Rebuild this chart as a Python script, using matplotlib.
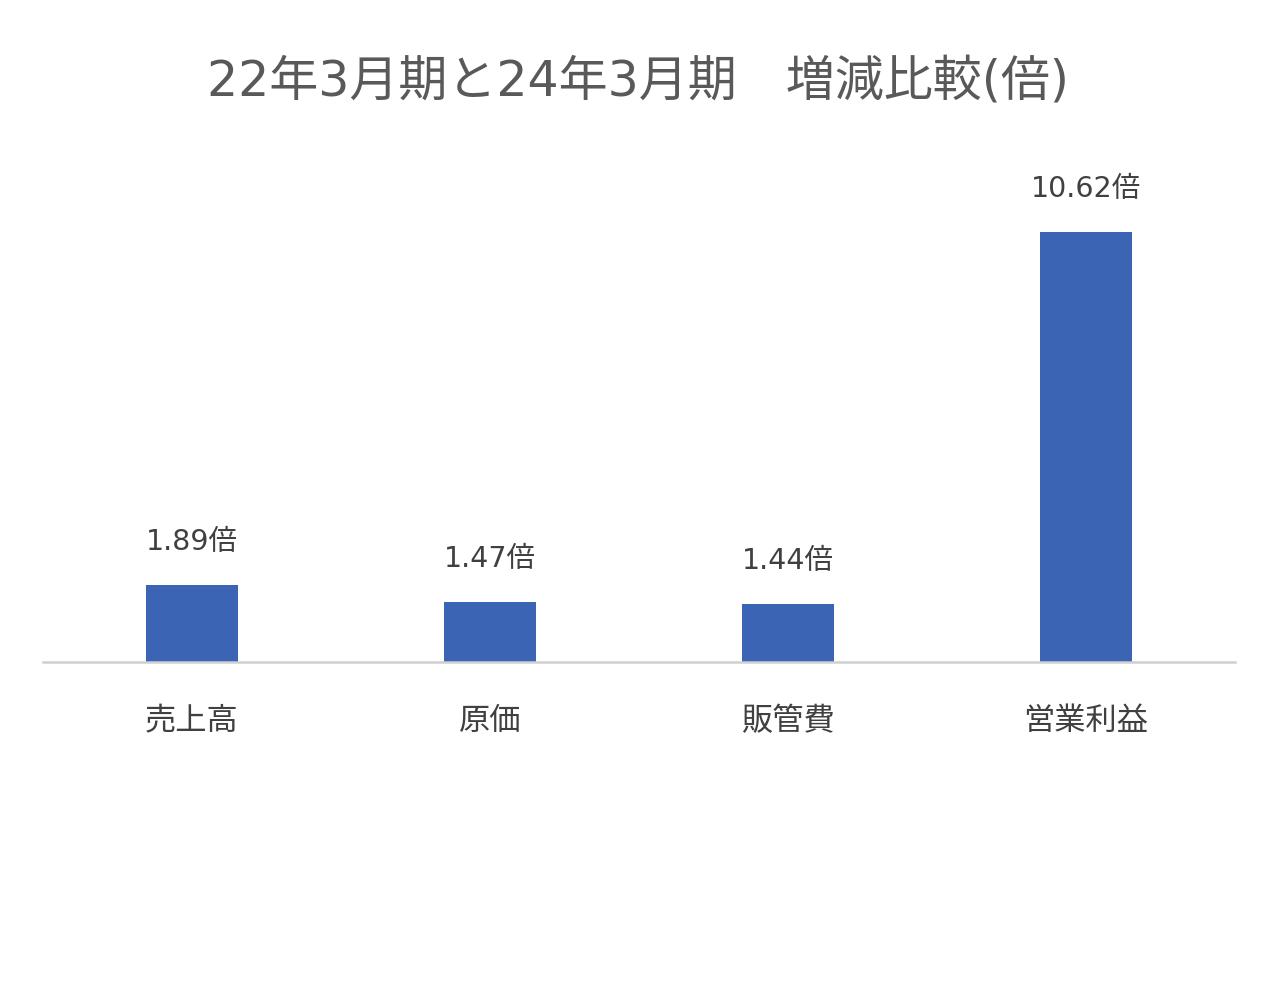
import matplotlib.pyplot as plt

plt.rcParams['font.family'] = ['Noto Sans CJK JP', 'DejaVu Sans']
# wide digits like the original, CJK falls back to Noto
WIDE = ['DejaVu Sans', 'Noto Sans CJK JP']

categories = ['売上高', '原価', '販管費', '営業利益']
ratios = [1.89, 1.47, 1.44, 10.62]
value_labels = ['1.89倍', '1.47倍', '1.44倍', '10.62倍']
title = '22年3月期と24年3月期　増減比較(倍)'

W, H = 1280, 994
fig = plt.figure(figsize=(W / 100, H / 100), dpi=100)
fig.patch.set_facecolor('white')

# axes placed in pixel terms: baseline at y=662, plot spans x 43..1235
base_px, top_px = 662, 140
ax = fig.add_axes([43 / W, (H - base_px) / H, (1235 - 43) / W, (base_px - top_px) / H])
px_per_unit = (base_px - 232) / 10.62
ax.set_ylim(0, (base_px - top_px) / px_per_unit)
ax.set_xlim(-0.5, len(categories) - 0.5)

x = range(len(categories))
ax.bar(x, ratios, width=0.31, color='#3B64B5', zorder=2)

for xi, v, lab in zip(x, ratios, value_labels):
    ax.annotate(lab, (xi, v), xytext=(0, 31), textcoords='offset points',
                ha='center', va='center', fontsize=20.5, color='#404040',
                family=WIDE)

ax.set_xticks(list(x))
ax.set_xticklabels(categories, fontsize=22.5, color='#404040')
ax.tick_params(axis='x', length=0, pad=31)
ax.set_yticks([])
for s in ['top', 'right', 'left']:
    ax.spines[s].set_visible(False)
ax.spines['bottom'].set_color('#D0D0D0')
ax.spines['bottom'].set_linewidth(1.8)
ax.set_facecolor('none')

fig.text(638 / W, 1 - 82 / H, title, ha='center', va='center',
         fontsize=35.3, color='#595959', family=WIDE)

fig.savefig('out.png', dpi=100, facecolor='white')
